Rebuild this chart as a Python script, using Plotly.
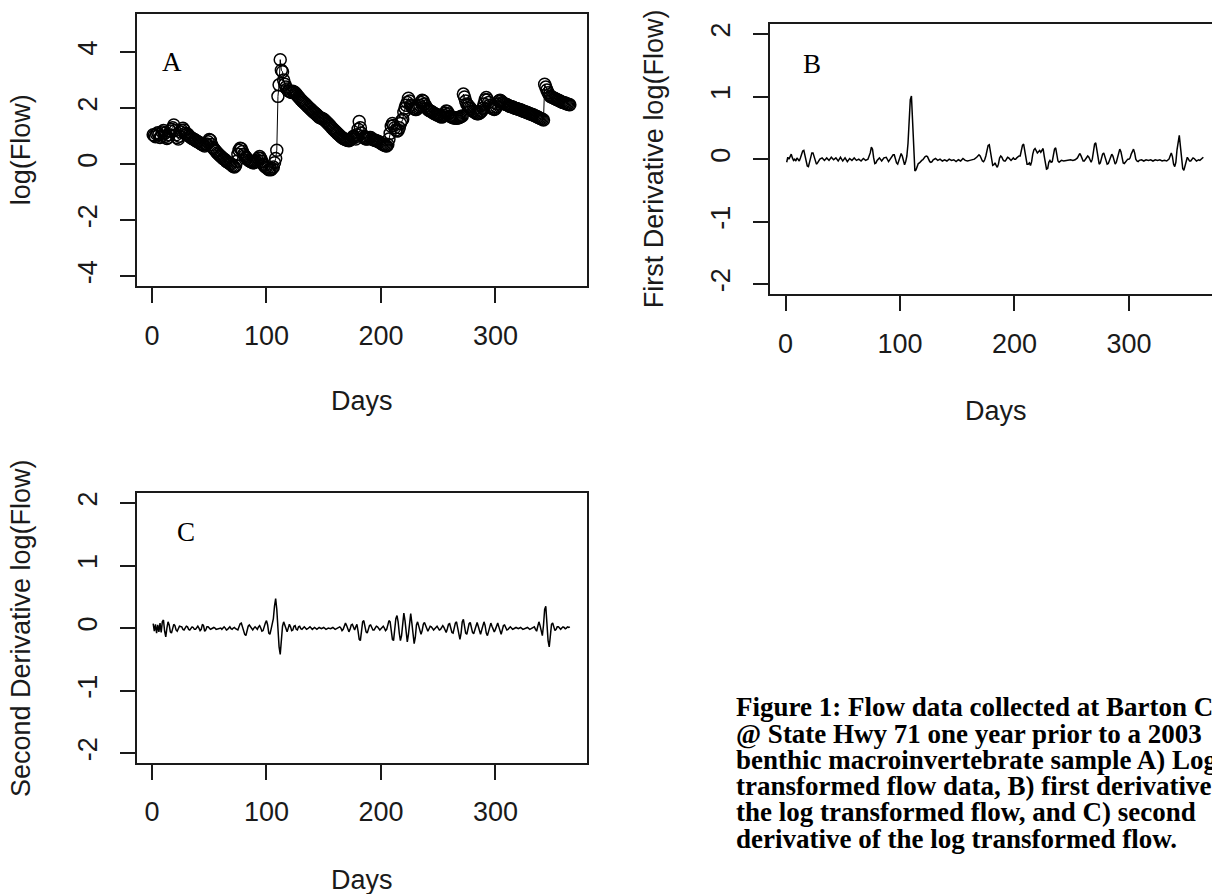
import plotly.graph_objects as go

# ---------------- data ----------------
log_flow = [
    1.05, 1.02, 0.98, 1.08, 1.12, 1.05, 0.95, 1.0, 1.15, 1.2,
    1.1, 1.0, 0.92, 0.95, 1.05, 1.18, 1.25, 1.3, 1.4, 1.2,
    1.05, 0.95, 0.9, 1.0, 1.15, 1.2, 1.28, 1.22, 1.1, 1.05,
    1.08, 1.02, 0.98, 0.95, 0.92, 0.9, 0.88, 0.85, 0.82, 0.8,
    0.78, 0.75, 0.72, 0.7, 0.68, 0.65, 0.7, 0.72, 0.8, 0.88,
    0.85, 0.7, 0.6, 0.55, 0.5, 0.45, 0.4, 0.36, 0.32, 0.28,
    0.25, 0.2, 0.18, 0.15, 0.1, 0.08, 0.05, 0.02, 0.0, -0.05,
    -0.08, -0.1, -0.05, 0.1, 0.35, 0.5, 0.57, 0.55, 0.45, 0.35,
    0.3, 0.25, 0.2, 0.15, 0.12, 0.1, 0.08, 0.05, 0.05, 0.08,
    0.1, 0.15, 0.22, 0.27, 0.2, 0.1, 0.0, -0.05, -0.1, -0.12,
    -0.15, -0.2, -0.18, -0.2, -0.15, -0.1, 0.05, 0.2, 0.5, 2.42,
    2.83, 3.73, 3.35, 3.3, 3.0, 2.85, 2.75, 2.68, 2.62, 2.6,
    2.58, 2.56, 2.6, 2.58, 2.55, 2.5, 2.45, 2.4, 2.35, 2.3,
    2.26, 2.22, 2.18, 2.15, 2.1, 2.06, 2.02, 1.98, 1.95, 1.9,
    1.87, 1.83, 1.8, 1.76, 1.72, 1.68, 1.66, 1.64, 1.62, 1.6,
    1.56, 1.52, 1.48, 1.44, 1.4, 1.35, 1.3, 1.26, 1.22, 1.18,
    1.14, 1.1, 1.06, 1.02, 0.98, 0.95, 0.92, 0.9, 0.88, 0.86,
    0.85, 0.84, 0.86, 0.9, 0.95, 1.0, 0.95, 0.9, 1.05, 1.25,
    1.52, 1.3, 1.1, 1.0, 0.95, 0.92, 0.9, 0.9, 0.92, 0.95,
    0.95, 0.9, 0.88, 0.86, 0.85, 0.84, 0.82, 0.8, 0.78, 0.75,
    0.72, 0.7, 0.68, 0.66, 0.65, 0.7, 0.9, 1.1, 1.35, 1.45,
    1.38, 1.3, 1.22, 1.18, 1.2, 1.3, 1.45, 1.55, 1.6, 1.85,
    2.0, 2.1, 2.2, 2.35, 2.25, 2.1, 2.05, 2.0, 1.98, 1.95,
    1.95, 2.0, 2.05, 2.1, 2.2, 2.28, 2.25, 2.15, 2.08, 2.0,
    1.95, 1.92, 1.9, 1.88, 1.85, 1.82, 1.8, 1.78, 1.76, 1.75,
    1.72, 1.7, 1.68, 1.7, 1.75, 1.82, 1.9, 1.88, 1.8, 1.72,
    1.7, 1.68, 1.66, 1.65, 1.65, 1.64, 1.65, 1.66, 1.68, 1.7, 1.72,
    2.5, 2.4, 2.25, 2.15, 2.1, 2.05, 2.0, 1.95, 1.9,
    1.88, 1.85, 1.82, 1.8, 1.8, 1.82, 1.85, 1.9, 2.0, 2.15,
    2.3, 2.38, 2.3, 2.2, 2.1, 2.05, 2.0, 1.98, 1.95, 1.98,
    2.05, 2.15, 2.25, 2.28, 2.25, 2.2, 2.18, 2.15, 2.14, 2.12,
    2.1, 2.08, 2.06, 2.05, 2.04, 2.02, 2.0, 1.99, 1.98, 1.96,
    1.95, 1.93, 1.92, 1.9, 1.88, 1.87, 1.85, 1.84, 1.82, 1.8,
    1.79, 1.77, 1.76, 1.74, 1.72, 1.7, 1.68, 1.66, 1.64, 1.62,
    1.6, 1.58, 2.85, 2.75, 2.65, 2.55, 2.48, 2.42, 2.4, 2.38,
    2.36, 2.34, 2.32, 2.3, 2.28, 2.26, 2.24, 2.22, 2.2, 2.19,
    2.18, 2.16, 2.15, 2.13, 2.12,
]
days_a = list(range(1, len(log_flow) + 1))

d1_days = [1, 2, 3, 4, 5, 6, 7, 8, 9, 10, 11, 12, 13, 14, 15, 16, 17, 18, 19, 20,
           21, 22, 23, 24, 25, 26, 27, 28, 29, 30, 32, 34, 36, 38, 40, 42, 44, 46, 48, 50,
           52, 54, 56, 58, 60, 62, 64, 66, 68, 70, 72, 74, 75, 76, 77, 78, 79, 80, 82, 84,
           86, 88, 90, 92, 94, 95, 96, 97, 98, 99, 100, 101, 102, 103, 104, 105, 106, 107, 108, 109,
           110, 111, 112, 113, 114, 115, 116, 117, 118, 119, 120, 121, 122, 123, 124, 125, 126, 127, 128, 129,
           131, 133, 135, 137, 139, 141, 143, 145, 147, 149, 151, 153, 155, 157, 159, 161, 163, 165, 167, 169,
           170, 171, 172, 173, 174, 175, 176, 177, 178, 179, 180, 181, 182, 183, 184, 185, 186, 187, 188, 189,
           190, 191, 192, 193, 194, 195, 196, 197, 198, 199, 200, 201, 202, 203, 204, 205, 206, 207, 208, 209,
           210, 211, 212, 213, 214, 215, 216, 217, 218, 219, 220, 221, 222, 223, 224, 225, 226, 227, 228, 229,
           230, 231, 232, 233, 234, 235, 236, 237, 238, 239, 240, 241, 243, 245, 247, 249, 251, 253, 255, 256,
           257, 258, 259, 260, 261, 262, 263, 264, 265, 266, 267, 268, 269, 270, 271, 272, 273, 274, 275, 276,
           277, 278, 279, 280, 281, 282, 283, 284, 285, 286, 287, 288, 289, 290, 291, 292, 293, 294, 295, 296,
           297, 298, 299, 300, 301, 302, 303, 304, 305, 306, 307, 308, 309, 311, 313, 315, 317, 319, 321, 323,
           325, 327, 329, 331, 333, 334, 335, 336, 337, 338, 339, 340, 341, 342, 343, 344, 345, 346, 347, 348,
           349, 350, 351, 352, 353, 354, 355, 356, 357, 358, 359, 360, 361, 362, 363, 364, 365]
d1_vals = [-0.05, 0.03, 0.0, 0.06, 0.08, 0.02, -0.02, 0.0, -0.03, 0.02, 0.0, -0.03, 0.02, 0.08, 0.13, 0.14, 0.06, -0.05, -0.11, -0.12,
           -0.04, 0.05, 0.1, 0.1, 0.04, -0.04, -0.08, -0.06, -0.02, 0.0, 0.02, -0.02, 0.02, -0.02, 0.03, -0.01, 0.02, -0.03, 0.03, -0.03,
           0.02, -0.04, 0.01, -0.02, 0.02, -0.02, 0.0, -0.03, 0.01, -0.02, 0.0, 0.1, 0.19, 0.16, 0.02, -0.07, -0.06, -0.02, 0.02, -0.03,
           0.02, 0.03, -0.04, 0.02, 0.07, 0.07, 0.0, -0.06, -0.08, -0.02, 0.06, 0.09, 0.05, -0.05, -0.09, -0.04, 0.05, 0.25, 0.6, 0.95,
           1.01, 0.6, 0.1, -0.19, -0.17, -0.1, -0.07, -0.06, -0.03, -0.02, -0.01, 0.02, 0.04, 0.05, 0.04, 0.0, -0.04, -0.05, -0.04, -0.01,
           0.01, -0.02, 0.0, -0.03, -0.01, -0.03, 0.0, -0.02, -0.01, -0.04, -0.01, -0.03, 0.01, -0.02, -0.03, -0.02, -0.01, 0.0, 0.03, 0.07,
           0.05, 0.0, -0.03, -0.04, -0.01, 0.05, 0.15, 0.22, 0.23, 0.1, -0.05, -0.1, -0.09, -0.06, -0.1, -0.13, -0.08, 0.02, 0.05, 0.03,
           -0.01, -0.03, -0.03, 0.0, 0.03, 0.02, -0.01, -0.02, 0.0, 0.02, 0.0, 0.0, 0.02, 0.04, 0.05, 0.05, 0.12, 0.22, 0.24, 0.12,
           -0.03, -0.08, -0.08, -0.06, -0.1, -0.04, 0.08, 0.15, 0.17, 0.12, 0.1, 0.12, 0.14, 0.11, 0.15, 0.17, 0.05, -0.1, -0.16, -0.15,
           -0.05, -0.02, -0.05, -0.04, 0.08, 0.16, 0.18, 0.08, -0.03, -0.05, -0.04, -0.02, -0.03, -0.02, -0.02, -0.01, -0.02, -0.01, 0.02, 0.06,
           0.09, 0.06, 0.0, -0.03, -0.03, 0.0, 0.04, 0.05, 0.03, -0.03, -0.05, 0.0, 0.12, 0.24, 0.26, 0.12, -0.03, -0.08, -0.06, 0.02,
           0.08, 0.1, 0.04, -0.04, -0.08, -0.07, -0.01, 0.06, 0.08, 0.05, -0.03, -0.08, -0.05, 0.03, 0.12, 0.16, 0.12, 0.0, -0.06, -0.07,
           -0.04, -0.02, 0.0, 0.0, 0.02, 0.08, 0.14, 0.16, 0.1, 0.0, -0.03, -0.04, -0.02, -0.01, -0.03, -0.01, -0.02, -0.01, -0.03, -0.01,
           -0.02, -0.01, -0.03, -0.02, -0.03, -0.02, 0.0, 0.05, 0.1, 0.04, -0.08, -0.12, -0.05, 0.15, 0.32, 0.38, 0.2, -0.05, -0.15, -0.18,
           -0.1, 0.0, 0.03, 0.0, -0.03, -0.03, 0.0, 0.02, 0.01, -0.02, -0.03, -0.02, -0.01, -0.02, 0.0, 0.02, 0.03]

d2_days = [1, 2, 3, 4, 5, 6, 7, 8, 9, 10, 11, 12, 13, 14, 15, 16, 17, 18, 19, 20,
           21, 22, 23, 24, 26, 27, 28, 29, 30, 31, 32, 33, 34, 35, 36, 37, 38, 39, 40, 41,
           42, 43, 44, 45, 46, 47, 48, 49, 50, 51, 52, 54, 55, 56, 58, 60, 61, 62, 63, 64,
           65, 66, 67, 68, 69, 70, 71, 72, 73, 75, 76, 77, 78, 79, 80, 81, 82, 83, 84, 85,
           86, 87, 88, 89, 90, 91, 92, 93, 94, 95, 96, 97, 98, 99, 100, 101, 102, 103, 104, 105,
           106, 107, 108, 109, 110, 111, 112, 113, 114, 115, 116, 117, 118, 119, 120, 121, 122, 123, 124, 125,
           126, 127, 128, 129, 130, 131, 132, 133, 134, 135, 136, 137, 138, 139, 140, 142, 144, 146, 148, 150,
           152, 154, 156, 158, 160, 162, 164, 165, 166, 167, 168, 169, 170, 171, 172, 173, 174, 175, 176, 177,
           178, 179, 180, 181, 182, 183, 184, 185, 186, 187, 188, 189, 190, 191, 192, 193, 194, 195, 196, 197,
           198, 199, 200, 201, 202, 203, 204, 205, 206, 207, 208, 209, 210, 211, 212, 213, 214, 215, 216, 217,
           218, 219, 220, 221, 222, 223, 224, 225, 226, 227, 228, 229, 230, 231, 232, 233, 234, 235, 236, 237,
           238, 239, 240, 241, 242, 243, 244, 245, 246, 247, 248, 249, 250, 251, 252, 253, 254, 255, 256, 257,
           258, 259, 260, 261, 262, 263, 264, 265, 266, 267, 268, 269, 270, 271, 272, 273, 274, 275, 276, 277,
           278, 279, 280, 281, 282, 283, 284, 285, 286, 287, 288, 289, 290, 291, 292, 293, 294, 295, 296, 297,
           298, 299, 300, 301, 302, 303, 304, 305, 306, 307, 308, 309, 310, 311, 312, 313, 314, 315, 316, 318,
           320, 322, 324, 326, 328, 330, 332, 334, 335, 336, 337, 338, 339, 340, 341, 342, 343, 344, 345, 346,
           347, 348, 349, 350, 351, 352, 353, 354, 355, 356, 357, 358, 359, 360, 361, 362, 363, 364, 365]
d2_vals = [0.07, -0.05, 0.06, -0.08, 0.05, -0.06, 0.08, -0.07, 0.1, 0.13, -0.05, -0.14, 0.0, 0.1, 0.05, -0.06, -0.08, 0.02, 0.06, 0.04,
           -0.03, -0.05, -0.01, 0.03, 0.02, -0.02, -0.03, 0.0, 0.03, 0.02, -0.02, -0.03, 0.0, 0.02, 0.01, -0.02, -0.02, 0.01, 0.03, 0.0,
           -0.04, -0.02, 0.06, 0.04, -0.05, -0.03, 0.02, 0.02, 0.0, -0.02, -0.01, 0.01, 0.0, -0.02, -0.01, 0.0, -0.02, 0.0, 0.02, 0.0,
           -0.03, -0.02, 0.01, 0.02, -0.01, -0.02, 0.0, 0.01, -0.01, -0.03, 0.02, 0.07, 0.08, 0.02, -0.05, -0.1, -0.12, -0.05, 0.03, 0.05,
           0.02, -0.02, -0.03, 0.0, 0.02, 0.0, -0.02, 0.02, 0.04, 0.0, -0.05, -0.04, 0.03, 0.08, 0.12, 0.05, -0.08, -0.1, -0.02, 0.08,
           0.15, 0.35, 0.47, 0.3, -0.05, -0.3, -0.42, -0.2, 0.03, 0.1, 0.05, -0.02, -0.06, 0.0, 0.06, 0.02, -0.04, -0.03, 0.03, 0.04,
           -0.02, -0.03, 0.02, 0.03, -0.01, -0.02, 0.01, 0.02, 0.0, -0.02, -0.01, 0.01, 0.02, 0.0, -0.02, 0.01, -0.02, 0.01, -0.01, 0.01,
           -0.02, 0.0, -0.01, 0.01, -0.02, 0.0, 0.02, 0.0, -0.04, -0.02, 0.05, 0.08, 0.04, -0.03, -0.06, -0.02, 0.05, 0.06, 0.02, -0.03,
           0.02, 0.06, -0.05, -0.18, -0.2, -0.05, 0.1, 0.12, 0.03, -0.06, -0.08, -0.02, 0.04, 0.05, 0.01, -0.03, -0.03, 0.01, 0.03, 0.02,
           -0.01, -0.03, -0.01, 0.02, 0.03, 0.0, -0.04, -0.02, 0.05, 0.12, 0.1, -0.05, -0.18, -0.2, -0.05, 0.15, 0.2, 0.1, -0.08, -0.2,
           -0.12, 0.1, 0.24, 0.12, -0.1, -0.22, -0.1, 0.12, 0.23, 0.08, -0.15, -0.25, -0.15, 0.05, 0.1, 0.04, -0.06, -0.1, -0.04, 0.06,
           0.09, 0.04, -0.03, -0.05, -0.01, 0.03, 0.02, -0.01, -0.03, -0.01, 0.02, 0.03, 0.0, -0.03, -0.02, 0.02, 0.04, 0.01, -0.05, -0.07,
           -0.01, 0.06, 0.07, 0.0, -0.07, -0.08, 0.0, 0.08, 0.1, 0.02, -0.1, -0.18, -0.08, 0.1, 0.14, 0.03, -0.08, -0.1, -0.02, 0.07,
           0.09, 0.02, -0.07, -0.09, -0.02, 0.06, 0.09, 0.03, -0.06, -0.1, -0.03, 0.06, 0.1, 0.04, -0.08, -0.12, -0.04, 0.05, 0.08, 0.03,
           -0.03, -0.06, -0.02, 0.05, 0.08, 0.02, -0.07, -0.1, -0.03, 0.04, 0.05, 0.01, -0.03, -0.02, 0.01, 0.02, 0.0, -0.02, -0.01, 0.01,
           -0.01, 0.01, -0.02, 0.0, 0.01, -0.02, 0.0, 0.02, -0.02, -0.05, 0.03, 0.1, 0.04, -0.08, -0.12, 0.05, 0.3, 0.35, 0.05, -0.2,
           -0.3, -0.12, 0.06, 0.08, 0.0, -0.04, -0.02, 0.02, 0.02, -0.01, -0.02, 0.0, 0.02, 0.01, -0.01, 0.0, 0.02, 0.01, 0.02]

x_ticks = [0, 100, 200, 300]
a_yticks = [-4, -2, 0, 2, 4]
a_yticktext = ["-4", "-2", "0", "2", "4"]
d_yticks = [-2, -1, 0, 1, 2]
d_yticktext = ["-2", "-1", "0", "1", "2"]
panel_letters = ["A", "B", "C"]
y_titles = ["log(Flow)", "First Derivative log(Flow)", "Second Derivative log(Flow)"]
caption_lines = [
    "Figure 1: Flow data collected at Barton Creek",
    "@ State Hwy 71 one year prior to a 2003",
    "benthic macroinvertebrate sample A) Log",
    "transformed flow data, B) first derivative of",
    "the log transformed flow, and C) second",
    "derivative of the log transformed flow.",
]

# ---------------- layout helpers ----------------
W, H = 1212, 894
SANS = "Liberation Sans, Arial, sans-serif"
SERIF = "Liberation Serif, Times New Roman, serif"
INK = "#1a1a1a"

def fx(p):
    return p / W

def fy(p):
    return 1 - p / H

def xaxis_cfg(dom, rng, anchor, mirror=True):
    return dict(domain=dom, range=rng, anchor=anchor, tickvals=x_ticks,
                showline=True, linecolor=INK, linewidth=1.6, mirror=mirror,
                ticks="outside", ticklen=15, tickwidth=1.6, tickcolor=INK,
                ticklabelstandoff=9,
                tickfont=dict(family=SANS, size=27, color=INK),
                showgrid=False, zeroline=False)

def yaxis_cfg(dom, rng, anchor, ticks, texts, mirror=True):
    return dict(domain=dom, range=rng, anchor=anchor, tickvals=ticks, ticktext=texts,
                showline=True, linecolor=INK, linewidth=1.6, mirror=mirror,
                ticks="outside", ticklen=15, tickwidth=1.6, tickcolor=INK,
                tickangle=-90, ticklabelstandoff=12,
                tickfont=dict(family=SANS, size=27, color=INK),
                showgrid=False, zeroline=False)

xr = [-13.56, 379.56]
xr_b = [-13.56, -13.56 + (1212 - 770) / (450.0 / 393.12)]

fig = go.Figure()
fig.add_trace(go.Scatter(
    x=days_a, y=log_flow, mode="lines+markers", xaxis="x", yaxis="y",
    line=dict(color="black", width=1),
    marker=dict(symbol="circle-open", size=12, color="black", line=dict(width=1.5)),
    showlegend=False))
fig.add_trace(go.Scatter(
    x=d1_days, y=d1_vals, mode="lines", xaxis="x2", yaxis="y2",
    line=dict(color="black", width=1.5), showlegend=False))
fig.add_trace(go.Scatter(
    x=d2_days, y=d2_vals, mode="lines", xaxis="x3", yaxis="y3",
    line=dict(color="black", width=1.5), showlegend=False))

annotations = []
# panel letters (placed in data coordinates)
for (lx, ly, xref, yref), t in zip([(17.5, 3.65, "x", "y"), (23.5, 1.52, "x2", "y2"),
                                    (29.5, 1.53, "x3", "y3")], panel_letters):
    annotations.append(dict(x=lx, y=ly, xref=xref, yref=yref, text=t, showarrow=False,
                            font=dict(family=SERIF, size=27, color="black"),
                            xanchor="center", yanchor="middle"))
# axis titles
for (cx, cy) in [(361.5, 400), (995.5, 410), (361.5, 880)]:
    annotations.append(dict(x=fx(cx), y=fy(cy), xref="paper", yref="paper", text="Days",
                            showarrow=False, font=dict(family=SANS, size=27, color=INK),
                            xanchor="center", yanchor="middle"))
for (cx, cy), t in zip([(21, 148.5), (654, 157.5), (21, 627.5)], y_titles):
    annotations.append(dict(x=fx(cx), y=fy(cy), xref="paper", yref="paper", text=t,
                            textangle=-90, showarrow=False,
                            font=dict(family=SANS, size=27, color=INK),
                            xanchor="center", yanchor="middle"))
# caption
for i, line in enumerate(caption_lines):
    annotations.append(dict(x=fx(734), y=fy(707 + i * 26.3), xref="paper", yref="paper",
                            text="<b>" + line + "</b>", showarrow=False,
                            font=dict(family=SERIF, size=27, color="black"),
                            xanchor="left", yanchor="middle", align="left"))

fig.update_layout(
    width=W, height=H, autosize=False,
    margin=dict(l=0, r=0, t=0, b=0),
    paper_bgcolor="white", plot_bgcolor="white",
    xaxis=xaxis_cfg([fx(136.5), fx(586.5)], xr, "y"),
    yaxis=yaxis_cfg([fy(285), fy(12)], [-4.36, 5.36], "x", a_yticks, a_yticktext),
    xaxis2=xaxis_cfg([fx(770), 1.0], xr_b, "y2"),
    yaxis2=yaxis_cfg([fy(293), fy(22)], [-2.16, 2.16], "x2", d_yticks, d_yticktext, mirror=False),
    xaxis3=xaxis_cfg([fx(136.5), fx(586.5)], xr, "y3"),
    yaxis3=yaxis_cfg([fy(763), fy(492)], [-2.16, 2.16], "x3", d_yticks, d_yticktext),
    annotations=annotations,
)

fig.write_html("out.html")
